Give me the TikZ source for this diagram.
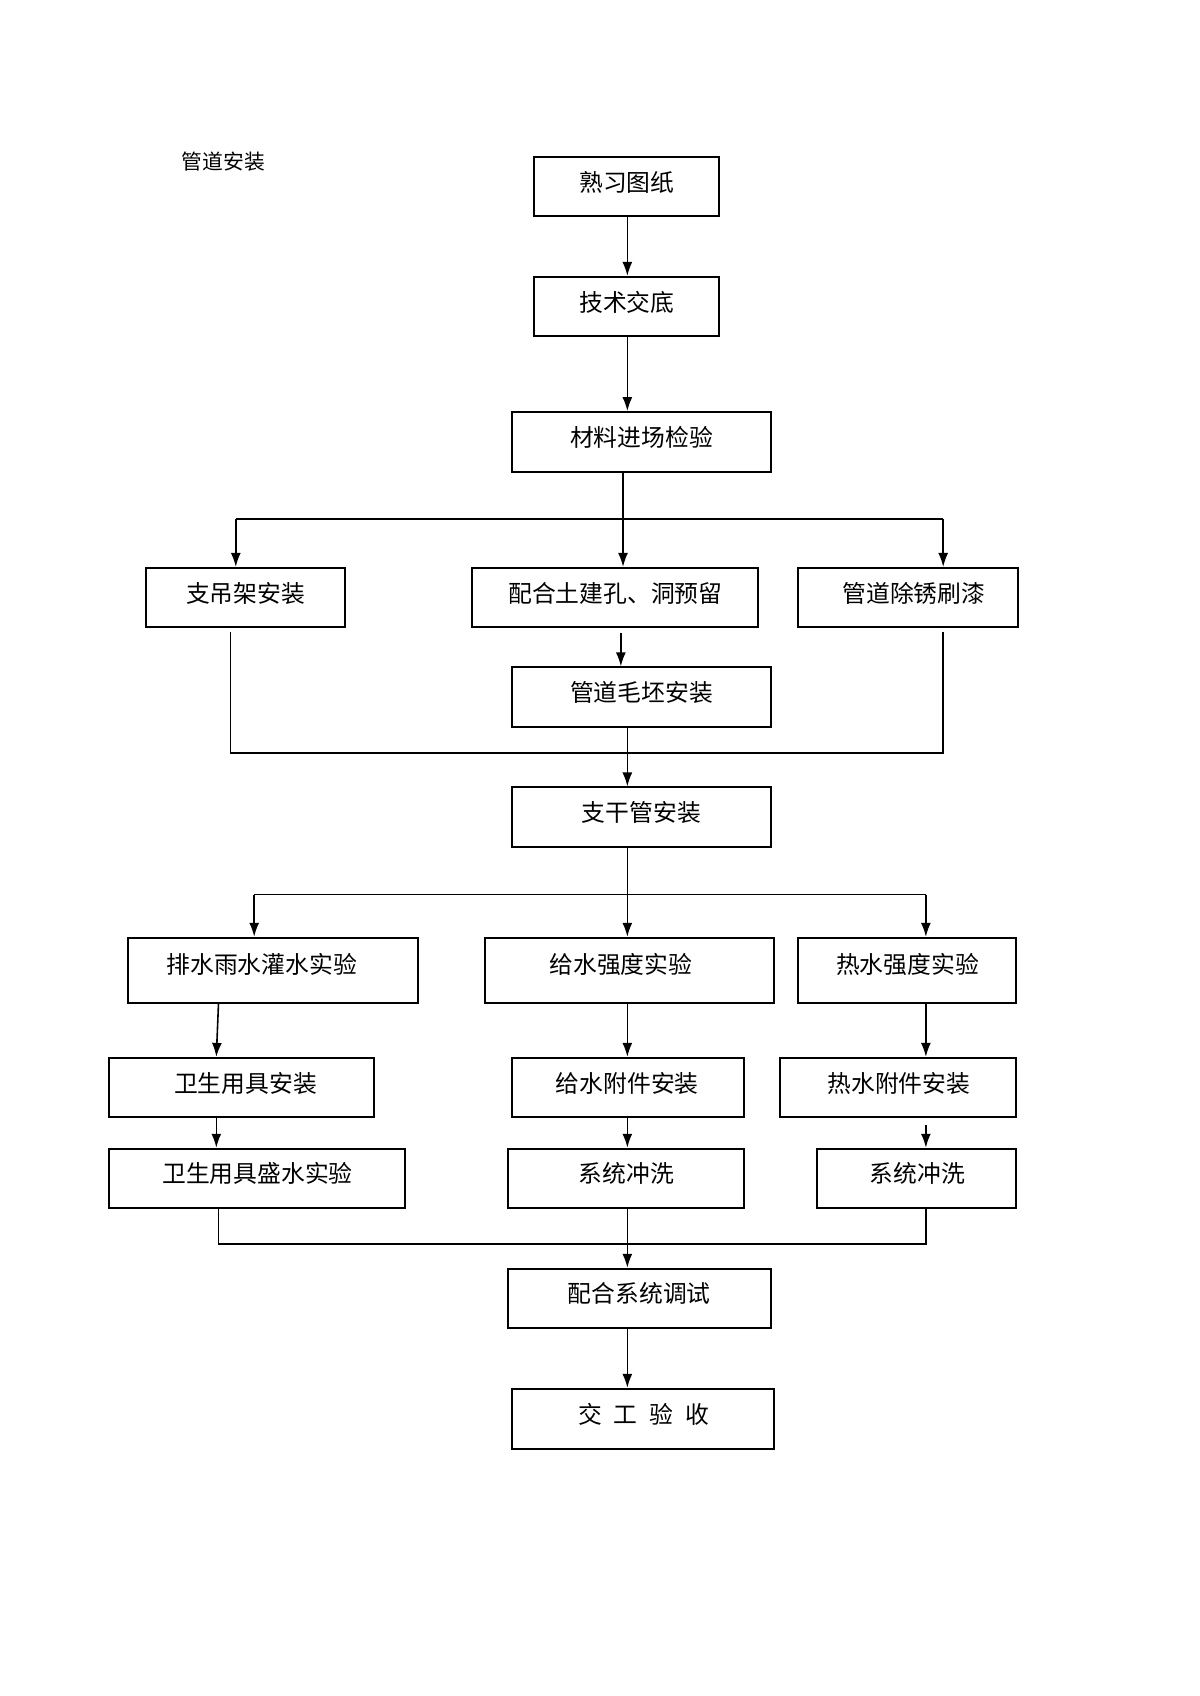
\documentclass[tikz,border=0pt]{standalone}
\usepackage{fontspec}
\newfontfamily\cjk{Noto Sans CJK SC}
\usetikzlibrary{arrows.meta}
\tikzset{
  boxnode/.style={draw=black, line width=1pt, inner sep=0pt, fill=none},
  txt/.style={font=\cjk\fontsize{11.9bp}{13bp}\selectfont, inner sep=0pt, text height=0.86em, text depth=0.14em, anchor=center, yshift=-1.6bp},
  ttl/.style={font=\cjk\fontsize{10.4bp}{12bp}\selectfont, inner sep=0pt, text height=0.86em, text depth=0.14em, anchor=center, yshift=-1bp},
  wire/.style={line width=0.8pt},
  thinwire/.style={line width=0.6pt},
  arr/.style={line width=0.8pt, -{Latex[length=7pt,width=5pt]}},
}
\newcommand{\flowbox}[8]{% name, x1, y1, x2, y2, text x, text y, text
  \node[boxnode, minimum width={(#4-#2)*0.5409bp}, minimum height={(#5-#3)*0.5409bp}] (#1) at ({(#2+#4)/2},{(#3+#5)/2}) {};
  \node[txt] (#1t) at (#6,#7) {#8};
}
\begin{document}
\begin{tikzpicture}[x=0.5409bp, y=-0.5409bp]
\useasboundingbox (0,0) rectangle (1109.4,1568);
\fill[white] (0,0) rectangle (1109.4,1568);

\node[ttl] (title) at (206.5,148) {管道安装};

\flowbox{b1}{494}{145}{665}{200}{579.5}{167}{熟习图纸}
\flowbox{b2}{494}{256}{665}{311}{579.5}{278}{技术交底}
\flowbox{b3}{473}{381}{713}{436}{593}{403}{材料进场检验}
\flowbox{b4}{135}{525}{319}{580}{227}{547}{支吊架安装}
\flowbox{b5}{436}{525}{701}{580}{569}{547}{配合土建孔、洞预留}
\flowbox{b6}{738}{525}{941}{580}{845}{547}{管道除锈刷漆}
\flowbox{b7}{473}{617}{713}{672}{593}{639}{管道毛坯安装}
\flowbox{b8}{473}{728}{713}{783}{593}{750}{支干管安装}
\flowbox{b9}{118}{867}{386}{927}{242}{890}{排水雨水灌水实验}
\flowbox{b10}{448}{867}{716}{927}{574}{890}{给水强度实验}
\flowbox{b11}{738}{867}{939}{927}{839}{890}{热水强度实验}
\flowbox{b12}{101}{978}{346}{1033}{227}{1000}{卫生用具安装}
\flowbox{b13}{473}{978}{688}{1033}{580}{1000}{给水附件安装}
\flowbox{b14}{721}{978}{939}{1033}{831}{1000}{热水附件安装}
\flowbox{b15}{101}{1062}{374}{1117}{238}{1084}{卫生用具盛水实验}
\flowbox{b16}{470}{1062}{688}{1117}{579}{1084}{系统冲洗}
\flowbox{b17}{755}{1062}{939}{1117}{848}{1084}{系统冲洗}
\flowbox{b18}{470}{1173}{713}{1228}{591}{1195}{配合系统调试}
\flowbox{b19}{473}{1284}{716}{1340}{595}{1306}{交\hspace{0.5em}工\hspace{0.5em}验\hspace{0.5em}收}

% column coordinates
\coordinate (c580) at (580,0);
\coordinate (c576) at (576,0);
\coordinate (c574) at (574,0);
\coordinate (c202) at (202,0);
\coordinate (c200) at (200,0);
\coordinate (c856) at (856,0);
% junction coordinates
\coordinate (h1L) at (218,480);
\coordinate (h1R) at (872,480);
\coordinate (h2L) at (213,696);
\coordinate (h2R) at (873,696);
\coordinate (h3L) at (235,827);
\coordinate (h3R) at (856,827);
\coordinate (h4L) at (202,1150);
\coordinate (h4R) at (856,1150);
\coordinate (s4) at (213,584);
\coordinate (s6) at (872,584);
\coordinate (s5) at (574,585);
\coordinate (s14) at (856,1040);

% top chain
\draw[arr] (b1.south -| c580) -- (b2.north -| c580);
\draw[arr] (b2.south -| c580) -- (b3.north -| c580);
\draw[arr] (b3.south -| c576) -- (b5.north -| c576);
\draw[wire] (h1L) -- (h1R);
\draw[arr] (h1L) -- (b4.north -| h1L);
\draw[arr] (h1R) -- (b6.north -| h1R);
\draw[arr] (s5) -- (b7.north -| s5);

% merge into branch pipe
\draw[wire] (s4) -- (h2L) -- (h2R);
\draw[wire] (s6) -- (h2R -| s6);
\draw[arr] (b7.south -| c580) -- (b8.north -| c580);

% split into tests
\draw[arr] (b8.south -| c580) -- (b10.north -| c580);
\draw[thinwire] (h3L) -- (h3R);
\draw[arr] (h3L) -- (b9.north -| h3L);
\draw[arr] (h3R) -- (b11.north -| h3R);

% columns
\draw[arr] (b9.south -| c202) -- (b12.north -| c200);
\draw[arr] (b10.south -| c580) -- (b13.north -| c580);
\draw[arr] (b11.south -| c856) -- (b14.north -| c856);
\draw[arr] (b12.south -| c200) -- (b15.north -| c200);
\draw[arr] (b13.south -| c580) -- (b16.north -| c580);
\draw[arr] (s14) -- (b17.north -| c856);

% merge into commissioning
\draw[wire] (b15.south -| c202) -- (h4L) -- (h4R) -- (b17.south -| c856);
\draw[arr] (b16.south -| c580) -- (b18.north -| c580);
\draw[arr] (b18.south -| c580) -- (b19.north -| c580);
\end{tikzpicture}
\end{document}
